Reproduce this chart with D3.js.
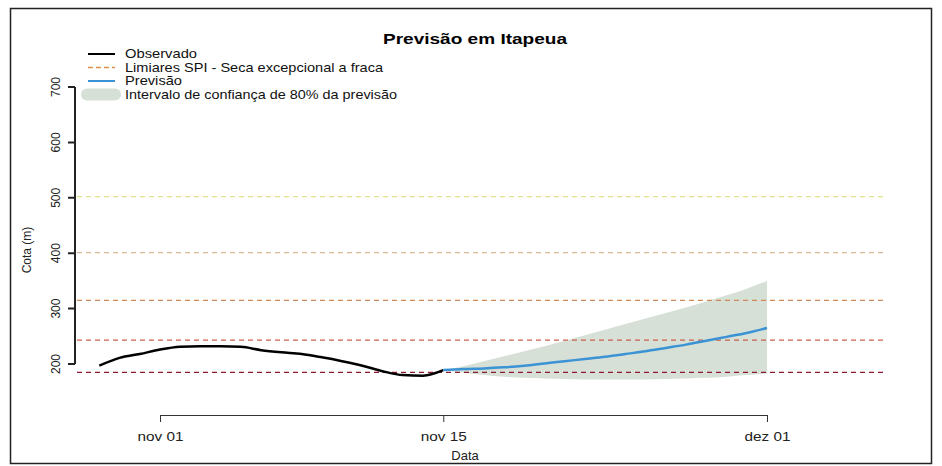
<!DOCTYPE html>
<html><head><meta charset="utf-8">
<script src="https://cdn.jsdelivr.net/npm/d3@7"></script>
<style>body{margin:0;background:#fff}text{font-family:"Liberation Sans",Arial,sans-serif}</style>
</head><body><div id="grafico"></div>
<script>
const diasObs = ["2023-10-29","2023-10-30","2023-10-31","2023-11-01","2023-11-02","2023-11-03","2023-11-04","2023-11-05","2023-11-06","2023-11-07","2023-11-08","2023-11-09","2023-11-10","2023-11-11","2023-11-12","2023-11-13","2023-11-14","2023-11-15"];
const observado = [197,211,218,226,231,232,232,231,225,221,218,212,205,197,187,180,179,189];
const diasPrev = ["2023-11-15","2023-11-16","2023-11-17","2023-11-18","2023-11-19","2023-11-20","2023-11-21","2023-11-22","2023-11-23","2023-11-24","2023-11-25","2023-11-26","2023-11-27","2023-11-28","2023-11-29","2023-11-30","2023-12-01"];
const previsao = [189,191,192,194,197,201,205,209,213,218,223,229,235,242,249,256,265];
const superior = [189,196,205,214,223,232,242,252,262,272,282,292,302,313,324,336,350];
const inferior = [189,184,180,177,175,174,173,172,172,172,172,173,174,175,177,180,183];
const limiares = [502,401,315,243,185];
const coresLimiares = ["#e2e08a","#d9b894","#d08a55","#c8604e","#8a1a30"];
const ticksX = ["2023-11-01","2023-11-15","2023-12-01"];
const rotulosX = ["nov 01","nov 15","dez 01"];
const ticksY = [200,300,400,500,600,700];

const parse = d3.timeParse("%Y-%m-%d");
const svg = d3.select("#grafico").append("svg").attr("width",942).attr("height",466);
svg.append("rect").attr("x",10.5).attr("y",8.5).attr("width",921).attr("height",455)
  .attr("fill","none").attr("stroke","#222").attr("stroke-width",1.5);

//escalas
const x = d3.scaleTime().domain([parse("2023-11-01"),parse("2023-12-01")]).range([160,767]);
const y = d3.scaleLinear().domain([200,700]).range([364,87]);

//intervalo de confianca
const area = d3.area().x((d,i)=>x(parse(diasPrev[i]))).y0((d,i)=>y(inferior[i])).y1(d=>y(d)).curve(d3.curveMonotoneX);
svg.append("path").attr("d",area(superior)).attr("fill","#d6e0d6");

//limiares
svg.selectAll(".lim").data(limiares).enter().append("line")
  .attr("x1",77).attr("x2",886).attr("y1",d=>y(d)).attr("y2",d=>y(d))
  .attr("stroke",(d,i)=>coresLimiares[i]).attr("stroke-width",1.2).attr("stroke-dasharray","5,4");

const linha = dias => d3.line().x((d,i)=>x(parse(dias[i]))).y(d=>y(d)).curve(d3.curveMonotoneX);
svg.append("path").attr("d",linha(diasObs)(observado)).attr("fill","none").attr("stroke","#000").attr("stroke-width",2.5);
svg.append("path").attr("d",linha(diasPrev)(previsao)).attr("fill","none").attr("stroke","#3b93d6").attr("stroke-width",2.5);

//eixos
const eixoX = svg.append("g").attr("transform","translate(0,415)")
  .call(d3.axisBottom(x).tickValues(ticksX.map(parse)).tickFormat((d,i)=>rotulosX[i]).tickSize(7).tickPadding(10).tickSizeOuter(0));
eixoX.select(".domain").attr("stroke","#333").attr("stroke-width",1.2);
eixoX.selectAll("line").attr("stroke","#333");
eixoX.selectAll("text").style("font-size","12px").attr("fill","#222").attr("textLength",46).attr("lengthAdjust","spacingAndGlyphs");

//eixo y
const caminhoY = "M75," + y(200) + "V" + y(700) + ticksY.map(v => "M68," + y(v) + "H75").join("");
svg.append("path").attr("d",caminhoY).attr("fill","none").attr("stroke","#222").attr("stroke-width",2);
svg.selectAll(".ylab").data(ticksY).enter().append("text")
  .attr("transform",d=>"translate(56,"+y(d)+") rotate(-90)").attr("text-anchor","middle").attr("dy","0.35em")
  .style("font-size","12px").attr("fill","#222").text(d=>d);

svg.append("text").attr("x",475).attr("y",44).attr("text-anchor","middle").style("font-size","14px").style("font-weight","bold")
  .attr("textLength",184).attr("lengthAdjust","spacingAndGlyphs").text("Previsão em Itapeua");
svg.append("text").attr("x",465).attr("y",460).attr("text-anchor","middle").style("font-size","13px").attr("fill","#222").text("Data");
svg.append("text").attr("transform","translate(31,250) rotate(-90)").attr("text-anchor","middle").style("font-size","12px").attr("fill","#222").text("Cota (m)");

//legenda
const leg = ["Observado","Limiares SPI - Seca excepcional a fraca","Previsão","Intervalo de confiança de 80% da previsão"];
const largLeg = [72,258,57,272];
leg.forEach((t,i)=>{
  const yy = 54 + i*13.5;
  if(i<3) svg.append("line").attr("x1",88).attr("x2",115).attr("y1",yy).attr("y2",yy)
    .attr("stroke",["#000","#e0904a","#3b93d6"][i]).attr("stroke-width",i==1?1.5:2)
    .attr("stroke-dasharray",i==1?"5,3":null);
  else svg.append("rect").attr("x",81).attr("y",yy-6).attr("width",40).attr("height",12).attr("rx",6).attr("fill","#d6e0d6");
  svg.append("text").attr("x",125).attr("y",yy+4).style("font-size","13px").attr("fill","#111")
    .attr("textLength",largLeg[i]).attr("lengthAdjust","spacingAndGlyphs").text(t);
});
</script></body></html>
